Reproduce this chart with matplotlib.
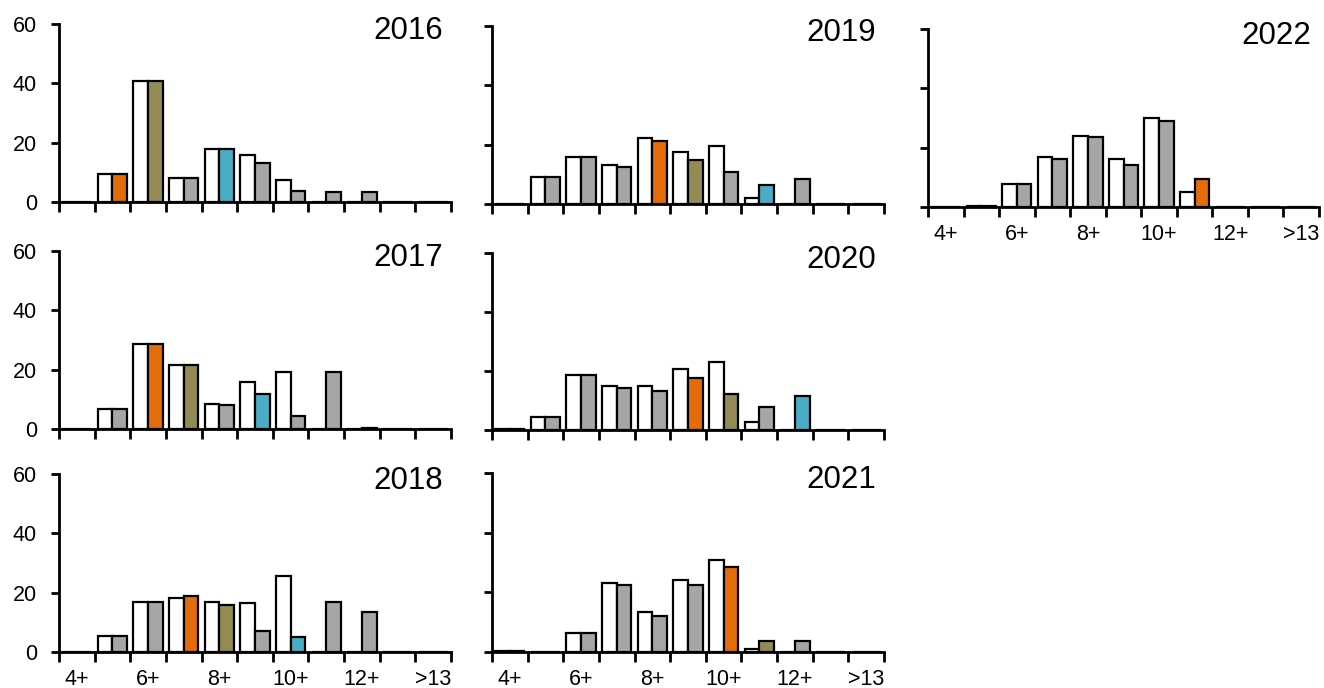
import numpy as np
import matplotlib
matplotlib.use("Agg")
import matplotlib.pyplot as plt

plt.rcParams['font.family'] = ['Liberation Sans', 'DejaVu Sans']

# age classes 4+ ... 13+ and >13
ages = ['4+', '5+', '6+', '7+', '8+', '9+', '10+', '11+', '12+', '13+', '>13']

# left (white) and right (filled) bar per age class, one pair per year
white_2016 = [0, 9.6, 40.8, 8.1, 17.8, 16.0, 7.4, 0, 0, 0, 0]
fill_2016 = [0, 9.6, 40.8, 8.0, 18.0, 13.3, 3.7, 3.3, 3.3, 0, 0]
white_2017 = [0, 6.6, 28.5, 21.6, 8.5, 15.7, 19.2, 0, 0, 0, 0]
fill_2017 = [0, 6.8, 28.5, 21.6, 8.1, 11.9, 4.3, 19.3, 0.3, 0, 0]
white_2018 = [0, 5.5, 16.9, 18.3, 16.9, 16.5, 25.5, 0, 0, 0, 0]
fill_2018 = [0, 5.5, 16.9, 18.8, 15.7, 7.2, 5.1, 16.9, 13.4, 0, 0]
white_2019 = [0, 9.0, 15.7, 13.1, 22.1, 17.5, 19.7, 1.9, 0, 0, 0]
fill_2019 = [0, 9.0, 15.7, 12.6, 21.3, 14.8, 10.8, 6.5, 8.4, 0, 0]
white_2020 = [0.3, 4.5, 18.5, 15.0, 15.0, 20.8, 23.2, 2.6, 0, 0, 0]
fill_2020 = [0.3, 4.5, 18.5, 14.2, 13.2, 17.5, 12.3, 7.8, 11.4, 0, 0]
white_2021 = [0.2, 0, 6.5, 23.1, 13.3, 24.2, 30.8, 1.1, 0, 0, 0]
fill_2021 = [0.2, 0, 6.5, 22.3, 12.1, 22.5, 28.6, 3.6, 3.6, 0, 0]
white_2022 = [0, 0.4, 7.8, 16.9, 24.0, 16.3, 30.0, 5.1, 0, 0, 0]
fill_2022 = [0, 0.4, 7.8, 16.2, 23.6, 14.1, 29.1, 9.3, 0, 0, 0]

years = [2016, 2017, 2018, 2019, 2020, 2021, 2022]
whites = [white_2016, white_2017, white_2018, white_2019, white_2020, white_2021, white_2022]
fills = [fill_2016, fill_2017, fill_2018, fill_2019, fill_2020, fill_2021, fill_2022]
xlabels = ['4+', '6+', '8+', '10+', '12+', '>13']

# year classes followed through the surveys
cohorts = [2011, 2010, 2008]
cohort_colors = ['#E46C0A', '#948A54', '#4BACC6']
grey = '#A6A6A6'

W, H = 1324, 688
fig = plt.figure(figsize=(W / 100, H / 100), dpi=100)

# panel boxes in pixels: left, top, right, bottom
boxes = {
    2016: (59, 24, 451, 202),
    2017: (59, 251, 451, 429),
    2018: (59, 474, 451, 652),
    2019: (492, 26, 884, 204),
    2020: (492, 253, 884, 430),
    2021: (492, 473, 884, 652),
    2022: (928, 29, 1319, 207),
}
with_ylabels = [2016, 2017, 2018]
with_xlabels = [2018, 2021, 2022]

x = np.arange(len(ages))
bw = 0.41

for yr, wv, fv in zip(years, whites, fills):
    l, t, r, b = boxes[yr]
    ax = fig.add_axes([l / W, 1 - b / H, (r - l) / W, (b - t) / H])

    cols = [grey] * len(ages)
    for c, col in zip(cohorts, cohort_colors):
        i = yr - c - 4
        if 0 <= i < len(ages):
            cols[i] = col

    ax.bar(x - bw / 2, wv, width=bw, color='white', edgecolor='black', linewidth=1.6)
    ax.bar(x + bw / 2, fv, width=bw, color=cols, edgecolor='black', linewidth=1.6)

    ax.set_xlim(-0.5, len(ages) - 0.5)
    ax.set_ylim(0, 60)
    for s in ['top', 'right']:
        ax.spines[s].set_visible(False)
    for s in ['left', 'bottom']:
        ax.spines[s].set_linewidth(2)
    ax.spines['bottom'].set_zorder(5)

    ax.set_yticks([0, 20, 40, 60])
    ax.tick_params(axis='y', length=6, width=2, direction='out', labelsize=15.5, pad=10)
    if yr not in with_ylabels:
        ax.set_yticklabels([])

    # tick marks sit between the age classes, labels on every other class
    ax.set_xticks(np.arange(-0.5, len(ages)), minor=True)
    ax.set_xticks(x[::2])
    ax.set_xticklabels(xlabels)
    ax.tick_params(axis='x', which='major', length=0, labelsize=15.5, pad=12)
    ax.tick_params(axis='x', which='minor', length=7, width=2, direction='out')
    if yr not in with_xlabels:
        ax.set_xticklabels([])

    ax.text(0.98, 0.915, str(yr), transform=ax.transAxes, ha='right', va='baseline',
            fontsize=22.5)

fig.savefig('out.png', dpi=100)
